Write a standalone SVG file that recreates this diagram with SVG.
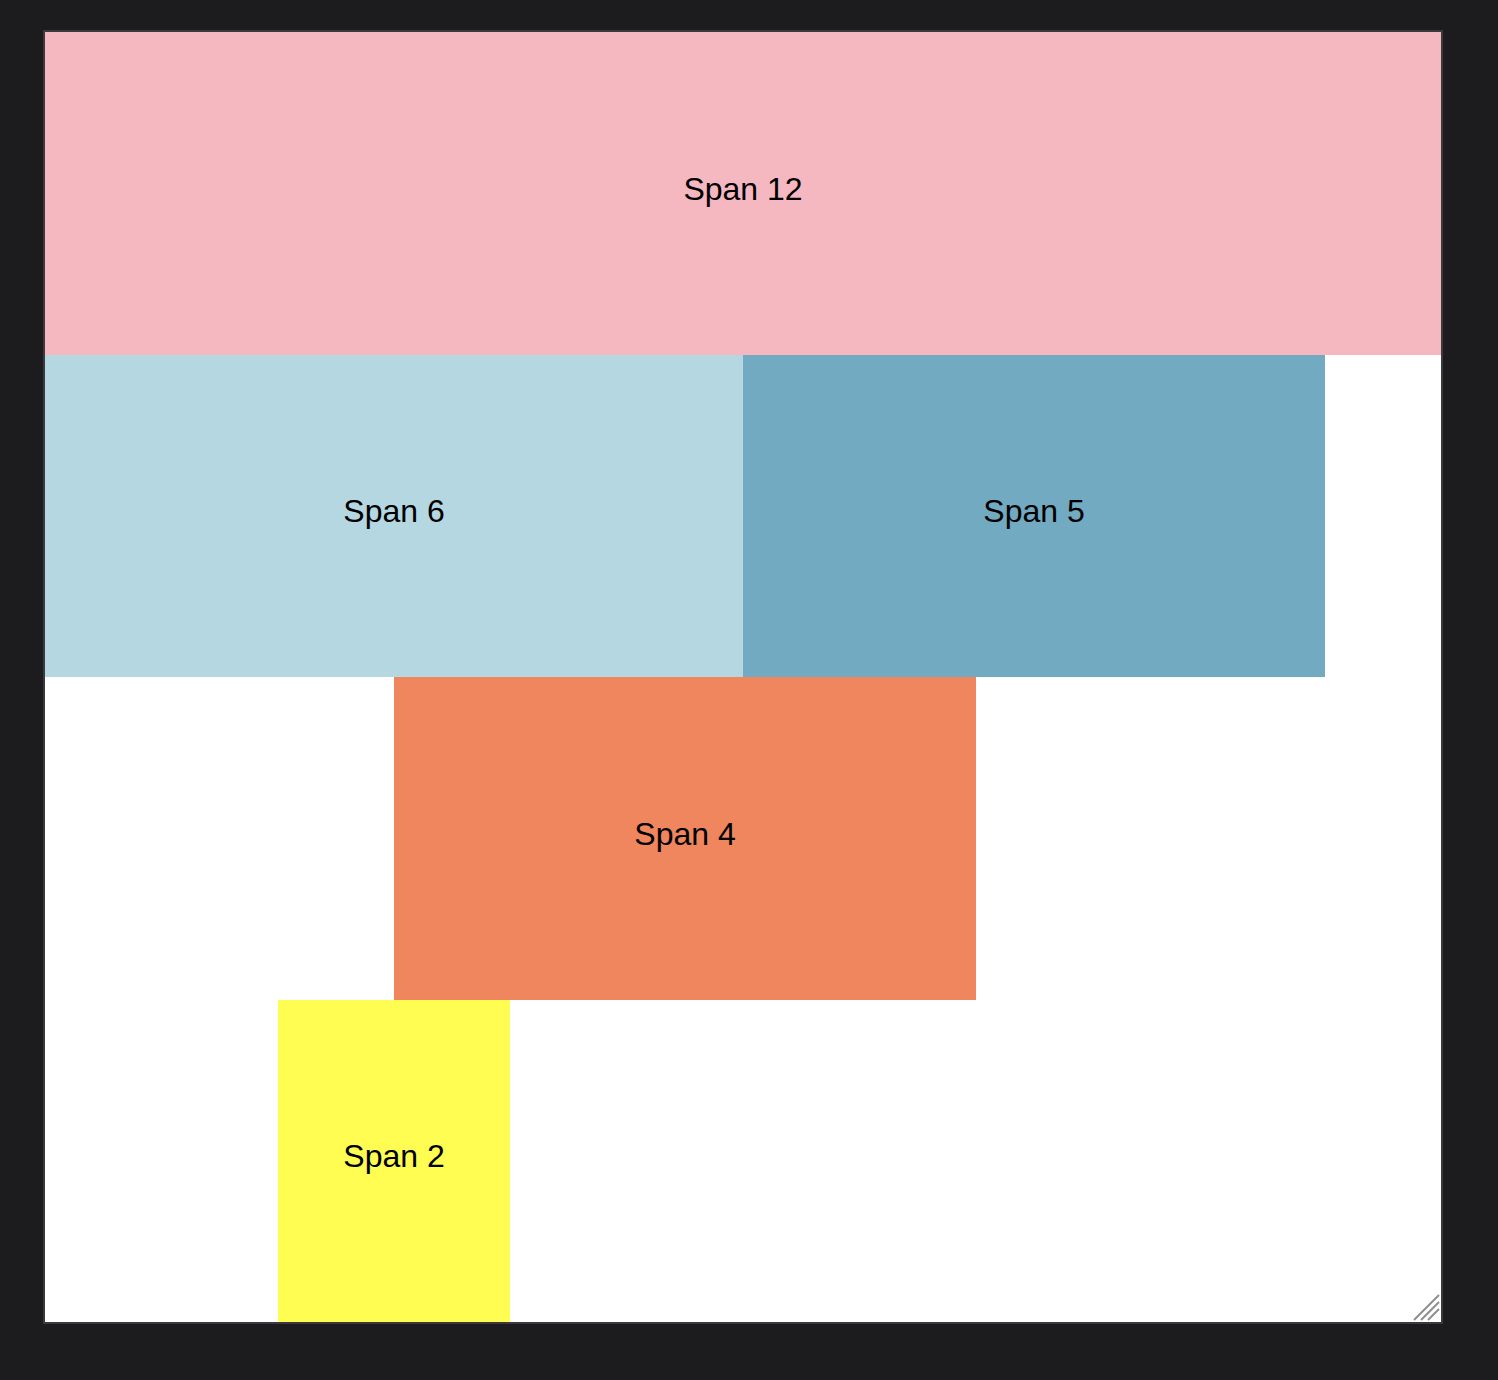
<svg xmlns="http://www.w3.org/2000/svg" width="1498" height="1380" viewBox="0 0 1498 1380">
<style>
.lbl{font-family:"Liberation Sans",Arial,sans-serif;font-size:32px;fill:#000;text-anchor:middle;dominant-baseline:central}
</style>
<rect x="0" y="0" width="1498" height="1380" fill="#1c1c1e"/>
<rect x="43" y="30" width="1400" height="1294" fill="#3a3a3c"/>
<rect x="45" y="32" width="1396" height="1290" fill="#ffffff"/>
<g id="span12"><rect x="45" y="32" width="1396" height="323" fill="#f5b8c1"/><text class="lbl" x="743" y="189">Span 12</text></g>
<g id="span6"><rect x="45" y="355" width="698" height="322" fill="#b5d7e2"/><text class="lbl" x="394" y="511">Span 6</text></g>
<g id="span5"><rect x="743" y="355" width="582" height="322" fill="#71aac1"/><text class="lbl" x="1034" y="511">Span 5</text></g>
<g id="span4"><rect x="394" y="677" width="582" height="323" fill="#ef865d"/><text class="lbl" x="685" y="834">Span 4</text></g>
<g id="span2"><rect x="278" y="1000" width="232" height="322" fill="#fffc52"/><text class="lbl" x="394" y="1156">Span 2</text></g>
<g id="handle" stroke="#8e8e8e" stroke-width="2">
<line x1="1414" y1="1320" x2="1439" y2="1295"/>
<line x1="1421" y1="1320" x2="1439" y2="1302"/>
<line x1="1428" y1="1320" x2="1439" y2="1309"/>
</g>
<g id="connectors"/>
</svg>
